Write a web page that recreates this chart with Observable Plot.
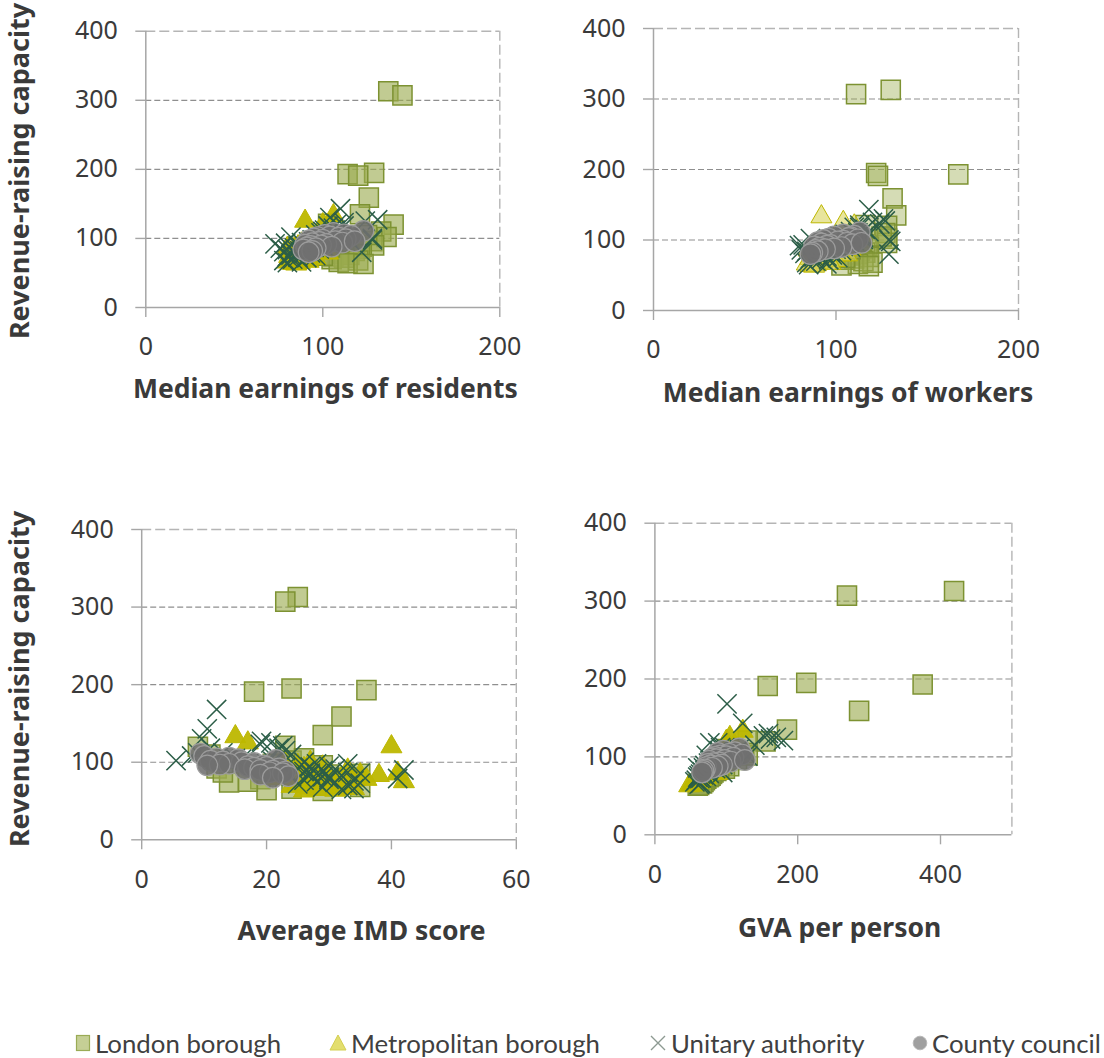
<!DOCTYPE html>
<html><head><meta charset="utf-8">
<script src="https://cdn.jsdelivr.net/npm/d3@7"></script>
<script src="https://cdn.jsdelivr.net/npm/@observablehq/plot@0.6"></script>
<style>
html,body{margin:0;padding:0;background:#fff;}
#chart{position:relative;width:1104px;height:1058px;overflow:hidden;font-family:"Noto Sans","Open Sans",sans-serif;}
.panel{position:absolute;}
.lg{position:absolute;top:1028px;height:30px;display:flex;align-items:center;font-family:Lato,"Noto Sans",sans-serif;font-size:25.8px;color:#404040;white-space:nowrap;}
.lg svg{margin-right:4px;}
</style></head><body><div id="chart"></div>
<script>
// ---- Data (index = revenue-raising capacity, x measures) ----
const londonRRC  = [313,307,195,193,191,159,135,120,121,110,102,96,92,90,88,85,84,82,80,78,76,74,72,70,68,66,64,63,75,87,98,105];
const londonRes  = [137,145,129,114,120,126,121,140,103,133,136,128,116,129,122,121,111,118,110,108,115,106,112,105,120,109,114,123,100,104,112,125];
const londonWork = [130,111,122,167,123,131,133,128,116,127,128,128,117,118,114,113,110,116,112,108,118,110,105,115,120,112,103,118,105,108,114,125];
const londonIMD  = [25,23,24,36,18,32,29,9,23,11,24,29,12,22,27,35,30,26,33,19,25,14,31,28,35,24,20,29,17,13,21,26];
const londonGVA  = [419,269,212,375,158,286,185,155,130,101,130,115,95,93,104,98,90,86,82,80,78,75,72,70,68,66,62,60,76,85,105,125];

const metroRRC  = [133,125,120,100,96,94,92,90,88,87,85,84,83,82,81,80,79,78,77,76,75,74,73,72,71,70,69,68,67,66,65,64,63,86,98,79];
const metroRes  = [106,90,100,96,98,93,88,95,86,101,84,92,89,97,85,91,103,88,83,94,87,81,90,86,96,82,88,84,92,80,87,83,85,80,102,99];
const metroWork = [92,104,110,100,105,98,96,100,94,108,90,96,95,102,92,97,106,93,88,99,95,86,96,91,100,87,92,90,97,84,89,86,88,85,107,103];
const metroIMD  = [15,17,40,27,25,29,26,33,28,24,41,35,38,30,27,32,22,36,34,29,42,31,25,28,33,30,24,32,27,34,29,31,26,41,23,35];
const metroGVA  = [123,105,100,95,90,88,85,84,80,92,78,82,76,80,72,75,88,70,68,74,70,65,72,66,64,62,60,58,63,56,52,55,48,70,98,86];

const unitaryRRC  = [168,143,130,127,125,121,118,115,112,110,108,105,102,100,98,96,95,94,92,91,90,89,88,87,86,85,84,83,82,81,98,79,78,77,76,75,74,73,72,70,68,66,65,118,104,99,93,86,101,123,112,80];
const unitaryRes  = [null,110,104,131,124,108,112,106,101,100,99,96,82,128,94,103,92,88,73,97,100,86,90,95,84,98,80,91,87,78,128,93,85,89,82,96,80,86,91,83,78,88,80,103,110,105,79,76,114,112,107,122];
const unitaryWork = [null,118,126,127,120,113,110,116,108,112,105,102,86,129,100,106,98,95,80,104,108,92,96,100,90,103,84,97,93,83,130,98,91,95,88,101,86,92,96,89,84,95,85,113,115,110,82,81,115,124,118,129];
const unitaryIMD  = [12,10.5,9.6,19.2,20.7,22.6,11,23,13,24,8,15,5.5,26,28,18,30,27,25,31,42,29,26,33,35,28,27,32,24,29,33,41,30,26,34,28,31,35,25,33,29,34,32,22,16,20,23,27,21,19,9,30];
const unitaryGVA  = [101,123,159,152,170,180,77,140,98,118,90,92,72,106,88,86,82,80,75,84,95,70,78,82,68,85,72,74,70,66,104,76,64,68,62,72,60,65,63,58,56,64,62,88,112,100,78,60,130,162,92,95];

const countyRRC  = [111,108,106,105,104,103,102,101,100,99,98,97,96,95,94,93,92,91,90,89,88,87,86,84,82,80,96];
const countyRes  = [123,106,112,101,116,104,97,109,95,113,100,92,107,98,111,94,102,90,99,93,105,91,96,89,94,92,118];
const countyWork = [113,104,110,99,108,107,96,112,93,104,101,90,106,92,109,97,95,88,103,91,99,94,89,90,87,86,114];
const countyIMD  = [9.4,10,14,12,15.5,21.5,11,13,16,18,14,12.5,19.5,17,20,18,22,16.5,19,21,23,20.5,22.6,19,23.5,21,10.5];
const countyGVA  = [118,96,112,88,104,122,92,100,84,110,80,86,98,76,106,90,82,74,94,78,88,72,80,70,68,66,126];

const yTicks = [0,100,200,300,400];
const gridVals = [100,200,300];
const categories = ["London borough","Metropolitan borough","Unitary authority","County council"];

function rows(rrc,res,work,imd,gva){
  return rrc.map((y,i)=>({rrc:y,res:res[i],work:work[i],imd:imd[i],gva:gva[i]}));
}
const london  = rows(londonRRC,londonRes,londonWork,londonIMD,londonGVA);
const metro   = rows(metroRRC,metroRes,metroWork,metroIMD,metroGVA);
const unitary = rows(unitaryRRC,unitaryRes,unitaryWork,unitaryIMD,unitaryGVA);
const county  = rows(countyRRC,countyRes,countyWork,countyIMD,countyGVA);

const panels = [
  {key:"res", left:0, top:0, width:540, height:420, mL:145.3, mR:40.7, mT:30.7, mB:113,
   xDomain:[0,200], xTicks:[0,100,200], title:"Median earnings of residents", tX:325.4, tY:398.3, yTitle:171, light:false},
  {key:"work", left:552, top:0, width:552, height:420, mL:101, mR:86, mT:28, mB:110,
   xDomain:[0,200], xTicks:[0,100,200], title:"Median earnings of workers", tX:848, tY:401.7, yTitle:null, light:true},
  {key:"imd", left:0, top:480, width:540, height:480, mL:141.2, mR:24.2, mT:49, mB:120.7,
   xDomain:[0,60], xTicks:[0,20,40,60], title:"Average IMD score", tX:361.6, tY:940, yTitle:679, light:false},
  {key:"gva", left:552, top:480, width:552, height:480, mL:102.4, mR:92.6, mT:42.7, mB:125.7,
   xDomain:[0,500], xTicks:[0,200,400], title:"GVA per person", tX:839.6, tY:936.7, yTitle:null, light:false}
];

const chart = document.getElementById("chart");

for (const p of panels) {
  const sqOp = p.light ? 0.42 : 0.62;
  const triFill = p.light ? "#d9d35a" : "#bdb700";
  const triOp = p.light ? 0.6 : 0.95;
  const svg = Plot.plot({
    width: p.width, height: p.height,
    marginLeft: p.mL, marginRight: p.mR, marginTop: p.mT, marginBottom: p.mB,
    x: {domain: p.xDomain, axis: null},
    y: {domain: [0,400], axis: null},
    style: {fontFamily:"'Noto Sans','Open Sans',sans-serif", fontSize:"25px", color:"#404040", background:"transparent", overflow:"visible"},
    marks: [
      Plot.ruleY(gridVals, {stroke:"#8f8f8f", strokeDasharray:"6,3", strokeWidth:1.2}),
      Plot.ruleY([400], {stroke:"#b5b5b5", strokeDasharray:"10,4", strokeWidth:1.4}),
      Plot.ruleX([p.xDomain[1]], {stroke:"#b5b5b5", strokeDasharray:"10,4", strokeWidth:1.4}),
      Plot.ruleX([0], {stroke:"#a6a6a6", strokeWidth:1.5}),
      Plot.ruleY([0], {stroke:"#a6a6a6", strokeWidth:1.5}),
      Plot.axisY({ticks:yTicks, tickSize:10, tickPadding:18, stroke:"#a6a6a6", strokeWidth:1.4, color:"#3a3a3a", label:null}),
      Plot.axisX({ticks:p.xTicks, tickSize:10, tickPadding:20, stroke:"#a6a6a6", strokeWidth:1.4, color:"#3a3a3a", label:null}),
      Plot.dot(london, {x:p.key, y:"rrc", symbol:"square", r:10.8, fill:"#9bab4f", fillOpacity:sqOp, stroke:"#7d9232", strokeWidth:1.5}),
      Plot.dot(metro, {x:p.key, y:"rrc", symbol:"triangle", r:7.8, fill:triFill, fillOpacity:triOp, stroke:"#bdb700", strokeWidth:1}),
      Plot.dot(unitary, {x:p.key, y:"rrc", symbol:"times", r:8.8, stroke:"#2c5e48", strokeWidth:1.5}),
      Plot.dot(county, {x:p.key, y:"rrc", symbol:"circle", r:10.3, fill:"#707070", fillOpacity:0.88, stroke:"#9c9c9c", strokeWidth:1.2})
    ]
  });
  const s = d3.select(svg);
  s.append("text")
    .attr("x", p.tX - p.left).attr("y", p.tY - p.top)
    .attr("text-anchor","middle").attr("font-weight",700).attr("font-size",26.5)
    .attr("fill","#3a3a3a").text(p.title);
  if (p.yTitle !== null) {
    s.append("text")
      .attr("transform", `translate(29,${p.yTitle - p.top}) rotate(-90)`)
      .attr("text-anchor","middle").attr("font-weight",700).attr("font-size",27)
      .attr("fill","#3a3a3a").text("Revenue-raising capacity");
  }
  const div = document.createElement("div");
  div.className = "panel";
  div.style.left = p.left + "px"; div.style.top = p.top + "px";
  div.style.width = p.width + "px"; div.style.height = p.height + "px";
  div.appendChild(svg);
  chart.appendChild(div);
}

// Legend
const legendSymbols = [
  `<svg width="16" height="18" viewBox="-8 -9 16 18"><rect x="-6.5" y="-7.5" width="13" height="15" fill="#c5cf95" stroke="#9aab55" stroke-width="1.2"/></svg>`,
  `<svg width="18" height="18" viewBox="-9 -9 18 18"><path d="M0,-8L8,7L-8,7Z" fill="#e3de6e" stroke="#d4cf50" stroke-width="1"/></svg>`,
  `<svg width="18" height="18" viewBox="-9 -9 18 18"><path d="M-7,-7L7,7M-7,7L7,-7" stroke="#8d9a92" stroke-width="1.4"/></svg>`,
  `<svg width="16" height="18" viewBox="-8 -9 16 18"><circle r="6.8" fill="#a0a0a0" stroke="#b8b8b8" stroke-width="1"/></svg>`
];
const legendLeft = [75, 329, 649, 912];
categories.forEach((c,i)=>{
  const d = document.createElement("div");
  d.className = "lg";
  d.style.left = legendLeft[i] + "px";
  d.innerHTML = legendSymbols[i] + `<span>${c}</span>`;
  chart.appendChild(d);
});
</script>
</body></html>
